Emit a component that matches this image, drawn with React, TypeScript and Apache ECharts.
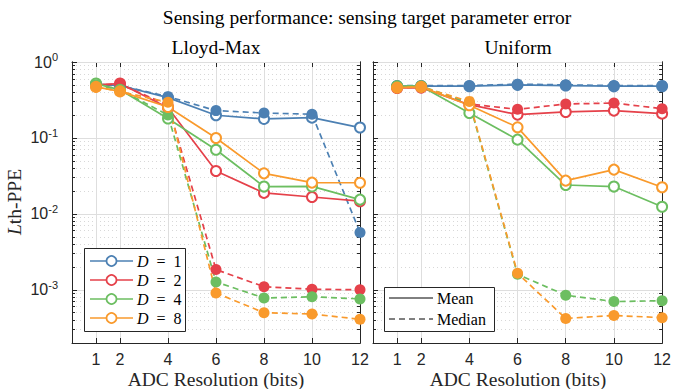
import React, { useEffect, useRef } from 'react';
import * as echarts from 'echarts';

// ---- Data ----
const bits = [1, 2, 4, 6, 8, 10, 12];
const dLabels = ['1', '2', '4', '8'];
const seriesColors = ['#4c80b3', '#e5414a', '#6cbe61', '#f99a2c'];
const panelTitles = ['Lloyd-Max', 'Uniform'];
const xTickValues = [1, 2, 4, 6, 8, 10, 12];
const yMajorTicks = [0.001, 0.01, 0.1, 1];

// Lloyd-Max
const lmMean1 = [0.51, 0.49, 0.34, 0.199, 0.178, 0.185, 0.137];
const lmMed1 = [0.5, 0.49, 0.35, 0.229, 0.213, 0.205, 0.0057];
const lmMean2 = [0.5, 0.52, 0.25, 0.0367, 0.0189, 0.0167, 0.0147];
const lmMed2 = [0.5, 0.51, 0.27, 0.00185, 0.0011, 0.00102, 0.001];
const lmMean4 = [0.52, 0.43, 0.18, 0.07, 0.0229, 0.023, 0.0154];
const lmMed4 = [0.5, 0.43, 0.2, 0.00127, 0.00078, 0.00081, 0.00076];
const lmMean8 = [0.47, 0.41, 0.256, 0.1, 0.0342, 0.0258, 0.0257];
const lmMed8 = [0.47, 0.41, 0.295, 0.00091, 0.0005, 0.00048, 0.00041];

// Uniform
const unMean1 = [0.48, 0.48, 0.48, 0.5, 0.49, 0.48, 0.48];
const unMed1 = [0.49, 0.49, 0.49, 0.51, 0.5, 0.49, 0.49];
const unMean2 = [0.455, 0.46, 0.274, 0.203, 0.22, 0.229, 0.209];
const unMed2 = [0.46, 0.47, 0.28, 0.238, 0.28, 0.288, 0.243];
const unMean4 = [0.48, 0.48, 0.213, 0.095, 0.024, 0.0229, 0.0124];
const unMed4 = [0.48, 0.48, 0.29, 0.0016, 0.00085, 0.0007, 0.00072];
const unMean8 = [0.46, 0.47, 0.27, 0.138, 0.0274, 0.0383, 0.0224];
const unMed8 = [0.46, 0.47, 0.303, 0.00165, 0.00042, 0.00046, 0.00043];

const panelMeans = [
  [lmMean1, lmMean2, lmMean4, lmMean8],
  [unMean1, unMean2, unMean4, unMean8],
];
const panelMedians = [
  [lmMed1, lmMed2, lmMed4, lmMed8],
  [unMed1, unMed2, unMed4, unMed8],
];

const Y_MIN = Math.pow(10, -3.7);
const Y_MAX = 1;
const yMinorTicks: number[] = [];
for (let e = -4; e <= -1; e++) {
  for (let k = 2; k <= 9; k++) {
    const v = Number((k * Math.pow(10, e)).toPrecision(3));
    if (v >= Y_MIN && v < Y_MAX) yMinorTicks.push(v);
  }
}

const SANS = 'Liberation Sans';
const SERIF = 'Liberation Serif';
const AX = '#262626';

const grids = [
  { left: 72, top: 62, width: 288, height: 281 },
  { left: 373, top: 62, width: 290, height: 281 },
];

function txt(text: string, size: number, extra: any = {}) {
  return { text, fontSize: size, fontFamily: SERIF, fill: '#000', ...extra };
}

function buildOption() {
  const xAxis: any[] = [];
  const yAxis: any[] = [];
  const series: any[] = [];

  grids.forEach((_, g) => {
    const axisLine = { show: true, onZero: false, lineStyle: { color: AX, width: 1 } };
    xAxis.push({
      type: 'value', gridIndex: g, position: 'bottom', min: 0, max: 12,
      axisLine,
      axisTick: { show: true, inside: true, length: 5, customValues: xTickValues, lineStyle: { color: AX } },
      axisLabel: { show: true, customValues: xTickValues, margin: 8, fontSize: 16, fontFamily: SANS, color: AX },
      splitLine: { show: true, lineStyle: { color: '#dedede', width: 1 } },
    });
    xAxis.push({
      type: 'value', gridIndex: g, position: 'top', min: 0, max: 12,
      axisLine,
      axisTick: { show: true, inside: true, length: 5, customValues: xTickValues, lineStyle: { color: AX } },
      axisLabel: { show: false },
      splitLine: { show: false },
    });
    const logBase = { type: 'log', logBase: 10, gridIndex: g, min: Y_MIN, max: Y_MAX };
    yAxis.push({
      ...logBase, position: 'left',
      axisLine,
      axisTick: { show: true, inside: true, length: 5, customValues: yMajorTicks, lineStyle: { color: AX } },
      axisLabel: {
        show: g === 0,
        customValues: yMajorTicks,
        margin: 14,
        formatter: (v: number) => `{b|10}{s|${Math.round(Math.log10(v))}}`,
        rich: {
          b: { fontSize: 16, fontFamily: SANS, color: AX },
          s: { fontSize: 11, fontFamily: SANS, color: AX, padding: [0, 0, 10, 0] },
        },
      },
      splitLine: { show: true, lineStyle: { color: '#dedede', width: 1 } },
      z: 3,
    });
    yAxis.push({
      ...logBase, position: 'left',
      axisLine,
      axisTick: { show: true, inside: true, length: 3, customValues: yMinorTicks, lineStyle: { color: AX } },
      axisLabel: { show: false },
      splitLine: { show: true, lineStyle: { color: '#d8d8d8', width: 1, type: [1, 3] } },
    });
    yAxis.push({
      ...logBase, position: 'right',
      axisLine,
      axisTick: { show: true, inside: true, length: 5, customValues: yMajorTicks, lineStyle: { color: AX } },
      axisLabel: { show: false },
      splitLine: { show: false },
    });
    yAxis.push({
      ...logBase, position: 'right',
      axisLine,
      axisTick: { show: true, inside: true, length: 3, customValues: yMinorTicks, lineStyle: { color: AX } },
      axisLabel: { show: false },
      splitLine: { show: false },
    });

    dLabels.forEach((d, i) => {
      const c = seriesColors[i];
      series.push({
        type: 'line', name: `${panelTitles[g]} mean D=${d}`,
        xAxisIndex: 2 * g, yAxisIndex: 4 * g,
        data: bits.map((b, j) => [b, panelMeans[g][i][j]]),
        symbol: 'emptyCircle', symbolSize: 10,
        lineStyle: { color: c, width: 1.7 },
        itemStyle: { color: c, borderWidth: 1.7 },
        z: 3,
      });
      series.push({
        type: 'line', name: `${panelTitles[g]} median D=${d}`,
        xAxisIndex: 2 * g, yAxisIndex: 4 * g,
        data: bits.map((b, j) => [b, panelMedians[g][i][j]]),
        symbol: 'circle', symbolSize: 11,
        lineStyle: { color: c, width: 1.7, type: [6, 4] },
        itemStyle: { color: c },
        z: 3,
      });
    });
  });

  const graphic: any[] = [];
  graphic.push({
    type: 'text', x: 367, y: 17, z: 100,
    style: txt('Sensing performance: sensing target parameter error', 19.5, { align: 'center', verticalAlign: 'middle' }),
  });
  grids.forEach((gr, g) => {
    const cx = gr.left + gr.width / 2;
    graphic.push({
      type: 'text', x: cx, y: 47, z: 100,
      style: txt(panelTitles[g], 19.5, { align: 'center', verticalAlign: 'middle' }),
    });
    graphic.push({
      type: 'text', x: cx, y: 379, z: 100,
      style: txt('ADC Resolution (bits)', 19.5, { fill: '#262626', align: 'center', verticalAlign: 'middle' }),
    });
  });
  graphic.push({
    type: 'text', x: 14, y: 202, rotation: Math.PI / 2, z: 100,
    style: txt('{i|L}th-PPE', 19.5, {
      fill: '#262626', align: 'center', verticalAlign: 'middle',
      rich: { i: { fontStyle: 'italic', fontSize: 19.5, fontFamily: SERIF, fill: '#262626' } },
    }),
  });

  // Legend for D
  graphic.push({ type: 'rect', z: 100, shape: { x: 84.5, y: 248.5, width: 101, height: 83 }, style: { fill: '#fff', stroke: AX, lineWidth: 1 } });
  dLabels.forEach((d, i) => {
    const cy = 261 + 19 * i;
    const c = seriesColors[i];
    graphic.push({ type: 'line', z: 101, shape: { x1: 90, y1: cy, x2: 133, y2: cy }, style: { stroke: c, lineWidth: 1.7 } });
    graphic.push({ type: 'circle', z: 102, shape: { cx: 111.5, cy, r: 5 }, style: { fill: '#fff', stroke: c, lineWidth: 1.7 } });
    graphic.push({
      type: 'text', x: 137, y: cy, z: 102,
      style: txt(`{i|D}\u2002=\u2002${d}`, 16, {
        verticalAlign: 'middle',
        rich: { i: { fontStyle: 'italic', fontSize: 16, fontFamily: SERIF } },
      }),
    });
  });

  // Legend for Mean / Median
  graphic.push({ type: 'rect', z: 100, shape: { x: 384.5, y: 287.5, width: 110, height: 44 }, style: { fill: '#fff', stroke: AX, lineWidth: 1 } });
  const styleNames = ['Mean', 'Median'];
  styleNames.forEach((n, i) => {
    const cy = 298 + 21 * i;
    graphic.push({
      type: 'line', z: 101, shape: { x1: 389, y1: cy, x2: 433, y2: cy },
      style: { stroke: '#000', lineWidth: 1, lineDash: i === 1 ? [6, 4] : null },
    });
    graphic.push({
      type: 'text', x: 437, y: cy, z: 102,
      style: txt(n, 16, { verticalAlign: 'middle' }),
    });
  });

  return {
    animation: false,
    backgroundColor: '#fff',
    grid: grids.map((g) => ({ ...g, containLabel: false })),
    xAxis,
    yAxis,
    series,
    graphic,
  };
}

export default function App() {
  const ref = useRef<HTMLDivElement>(null);
  useEffect(() => {
    document.body.style.margin = '0';
    if (!ref.current) return;
    const chart = echarts.init(ref.current, undefined, { renderer: 'svg' });
    chart.setOption(buildOption() as any);
    return () => chart.dispose();
  }, []);
  return <div ref={ref} style={{ width: 674, height: 389 }} />;
}
